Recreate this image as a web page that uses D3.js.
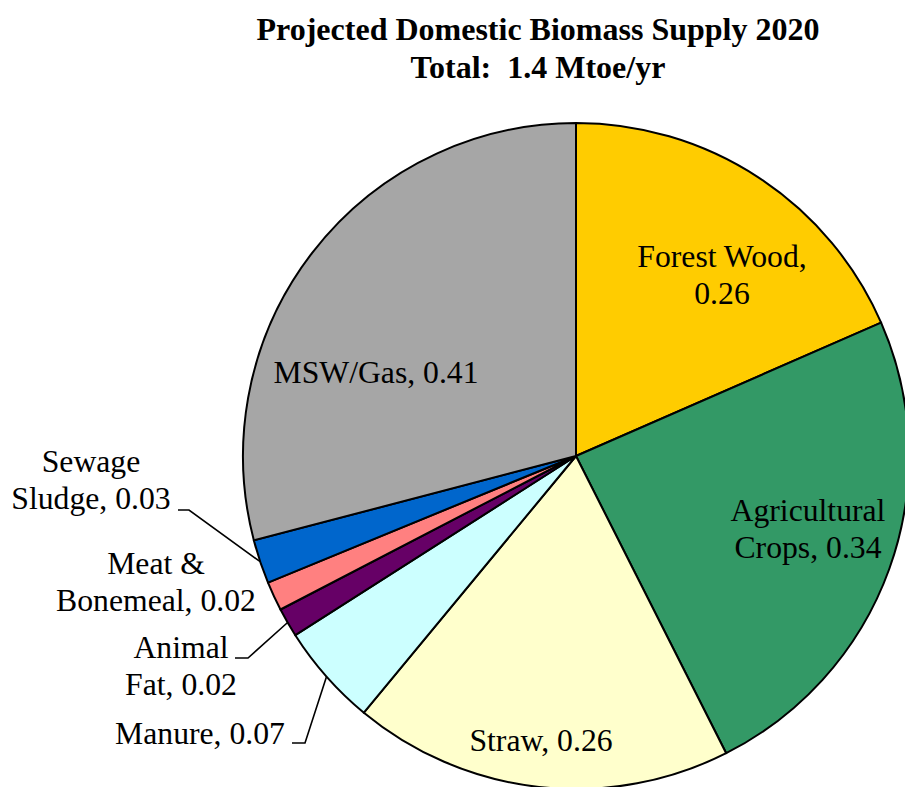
<!DOCTYPE html>
<html>
<head>
<meta charset="utf-8">
<script src="https://cdn.jsdelivr.net/npm/d3@7"></script>
<style>
  html, body { margin: 0; padding: 0; background: #fff; }
  svg { display: block; }
</style>
</head>
<body>
<svg id="chart" width="905" height="787"></svg>
<script>
// Supply by source, Mtoe/yr, clockwise from 12 o'clock
const categories = ["Forest Wood", "Agricultural Crops", "Straw", "Manure",
                    "Animal Fat", "Meat & Bonemeal", "Sewage Sludge", "MSW/Gas"];
const values = [0.26, 0.34, 0.26, 0.07, 0.02, 0.02, 0.03, 0.41];
const colors = ["#ffcc00", "#339966", "#ffffcc", "#ccffff",
                "#660066", "#ff8080", "#0066cc", "#a6a6a6"];
// Label text, broken into lines
const labelLines = [
  ["Forest Wood,", "0.26"],
  ["Agricultural", "Crops, 0.34"],
  ["Straw, 0.26"],
  ["Manure, 0.07"],
  ["Animal", "Fat, 0.02"],
  ["Meat &", "Bonemeal, 0.02"],
  ["Sewage", "Sludge, 0.03"],
  ["MSW/Gas, 0.41"]
];
const titleLines = ["Projected Domestic Biomass Supply 2020", "Total:  1.4 Mtoe/yr"];

// Layout
const cx = 576, cy = 456, R = 333;
const FONT = '"Liberation Serif"';
const fontSize = 31.7, lineH = 37;
// label anchor (centre x, first baseline y) and optional leader elbow
const labelLayout = [
  { x: 722, y: 267 },
  { x: 808, y: 521 },
  { x: 541, y: 751 },
  { x: 200, y: 744, leader: [[292, 743], [305, 743]] },
  { x: 181, y: 658, leader: [[235, 658], [248, 658]] },
  { x: 156, y: 574 },
  { x: 91,  y: 472, leader: [[178, 510], [189, 510]] },
  { x: 376, y: 383 }
];

const svg = d3.select("#chart");

const data = categories.map((c, i) => ({ name: c, value: values[i], color: colors[i], lines: labelLines[i], layout: labelLayout[i] }));

const pie = d3.pie().value(d => d.value).sort(null);
const arcs = pie(data);
const arc = d3.arc().innerRadius(0).outerRadius(R);
const edge = d3.arc().innerRadius(R).outerRadius(R);

const g = svg.append("g").attr("transform", `translate(${cx},${cy})`);

g.selectAll("path.slice")
  .data(arcs)
  .join("path")
  .attr("class", "slice")
  .attr("d", arc)
  .attr("fill", d => d.data.color)
  .attr("stroke", "#000")
  .attr("stroke-width", 2)
  .attr("stroke-linejoin", "round");

// Leader lines from label elbows to slice rims
const line = d3.line();
arcs.forEach(a => {
  const L = a.data.layout;
  if (!L.leader) return;
  const [ex, ey] = edge.centroid(a);
  const pts = L.leader.concat([[cx + ex, cy + ey]]);
  svg.append("path")
    .attr("d", line(pts))
    .attr("fill", "none")
    .attr("stroke", "#000")
    .attr("stroke-width", 1.6);
});

// Slice labels
arcs.forEach(a => {
  const L = a.data.layout;
  const t = svg.append("text")
    .attr("text-anchor", "middle")
    .attr("font-size", fontSize)
    .style("font-family", FONT)
    .attr("fill", "#000");
  a.data.lines.forEach((s, k) => {
    t.append("tspan").attr("x", L.x).attr("y", L.y + k * lineH).text(s);
  });
});

// Title
const title = svg.append("text")
  .attr("text-anchor", "middle")
  .attr("font-size", 32)
  .attr("font-weight", "bold")
  .style("font-family", FONT)
  .attr("xml:space", "preserve")
  .attr("fill", "#000");
titleLines.forEach((s, k) => {
  title.append("tspan").attr("x", 538).attr("y", 40 + k * 38).text(s);
});
</script>
</body>
</html>
